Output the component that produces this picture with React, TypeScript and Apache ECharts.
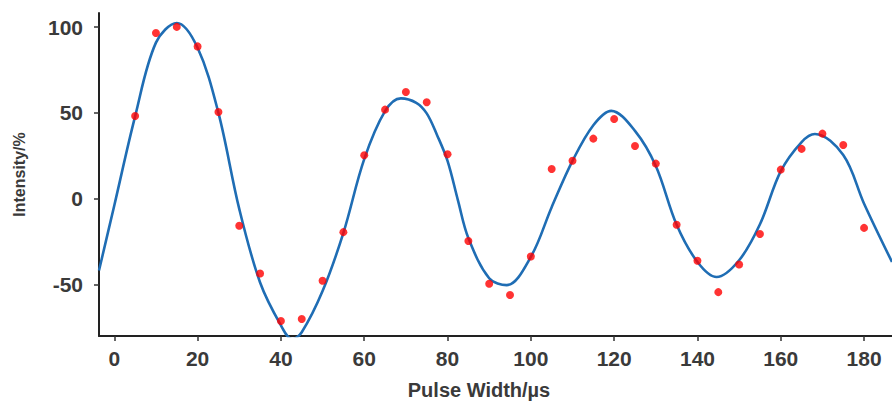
import React, { useEffect, useRef } from "react";
import * as echarts from "echarts";

// Measured data points (Pulse Width in µs, Intensity in %)
const pulseWidths = [
  5, 10, 15, 20, 25, 30, 35, 40, 45, 50, 55, 60, 65, 70, 75, 80, 85, 90,
  95, 100, 105, 110, 115, 120, 125, 130, 135, 140, 145, 150, 155, 160, 165,
  170, 175, 180,
];
const intensities = [
  48.2, 96.6, 100.2, 88.8, 50.5, -15.9, -43.7, -71.4, -70.3, -48.0, -19.6,
  25.3, 51.9, 62.2, 56.2, 25.9, -24.8, -49.7, -56.3, -33.8, 17.3, 22.1, 35.0,
  46.4, 30.7, 20.4, -15.3, -36.3, -54.6, -38.5, -20.7, 16.9, 29.0, 37.9, 31.3,
  -17.1,
];

// Fitted curve
const fitX = [
  -3.67, 0, 5, 10, 15, 20, 25, 30, 35, 40, 42.7, 45, 50, 55, 60, 65, 68.8,
  72.5, 75, 77.5, 80, 82.5, 85, 90, 94.2, 100, 105, 110, 115, 119.3, 125, 130,
  135, 140, 144.6, 150, 155, 160, 165, 168.2, 175, 180, 186.7,
];
const fitY = [
  -42, -4, 48, 91, 102.5, 88, 50, -6, -49, -74, -82, -78, -54, -20, 23, 51,
  58.5, 55.9, 49.7, 37, 22, -1, -23, -46.5, -50.5, -34, -5, 22, 42.8, 51.2,
  39.5, 19, -15.3, -37, -45.8, -36, -15, 16, 33, 37.7, 25.4, -3, -37,
];

const xTicks = [0, 20, 40, 60, 80, 100, 120, 140, 160, 180];
const yTicks = [-50, 0, 50, 100];

const xTitle = "Pulse Width/\u00b5s";
const yTitle = "Intensity/%";

export default function App() {
  const ref = useRef<HTMLDivElement>(null);

  useEffect(() => {
    if (!ref.current) return;
    const chart = echarts.init(ref.current, null, { renderer: "svg" });
    const font = "'Liberation Sans', Arial, sans-serif";
    chart.setOption({
      animation: false,
      backgroundColor: "#ffffff",
      grid: {
        left: 99,
        right: 0,
        top: 13,
        bottom: 66,
        containLabel: false,
        outerBoundsMode: "none",
      },
      xAxis: {
        type: "value",
        min: -3.67,
        max: 186.7,
        name: xTitle,
        nameLocation: "middle",
        nameGap: 44,
        nameTextStyle: {
          fontFamily: font,
          fontWeight: "bold",
          fontSize: 20,
          color: "#3a3a3a",
          padding: [0, 33, 0, 0],
        },
        axisLine: {
          show: true,
          onZero: false,
          lineStyle: { color: "#222", width: 2 },
        },
        axisTick: {
          show: true,
          length: 5,
          customValues: xTicks,
          lineStyle: { color: "#333", width: 1.5 },
        },
        axisLabel: {
          customValues: xTicks,
          margin: 12,
          fontFamily: font,
          fontWeight: "bold",
          fontSize: 21,
          color: "#3a3a3a",
        },
        splitLine: { show: false },
      },
      yAxis: {
        type: "value",
        min: -80.2,
        max: 108.3,
        name: yTitle,
        nameLocation: "middle",
        nameGap: 72,
        nameTextStyle: {
          fontFamily: font,
          fontWeight: "bold",
          fontSize: 16,
          color: "#3a3a3a",
        },
        axisLine: {
          show: true,
          onZero: false,
          lineStyle: { color: "#222", width: 2 },
        },
        axisTick: {
          show: true,
          length: 5,
          customValues: yTicks,
          lineStyle: { color: "#333", width: 1.5 },
        },
        axisLabel: {
          customValues: yTicks,
          margin: 16,
          fontFamily: font,
          fontWeight: "bold",
          fontSize: 21,
          color: "#3a3a3a",
        },
        splitLine: { show: false },
      },
      series: [
        {
          type: "line",
          data: fitX.map((x, i) => [x, fitY[i]]),
          smooth: 0.35,
          showSymbol: false,
          clip: true,
          lineStyle: { color: "#1f6db4", width: 2.6 },
          z: 2,
        },
        {
          type: "scatter",
          data: pulseWidths.map((x, i) => [x, intensities[i]]),
          symbolSize: 8,
          itemStyle: { color: "#ff0000" },
          z: 3,
        },
      ],
    });
    return () => chart.dispose();
  }, []);

  return (
    <div
      ref={ref}
      style={{ position: "fixed", left: 0, top: 0, width: 892, height: 402 }}
    />
  );
}
